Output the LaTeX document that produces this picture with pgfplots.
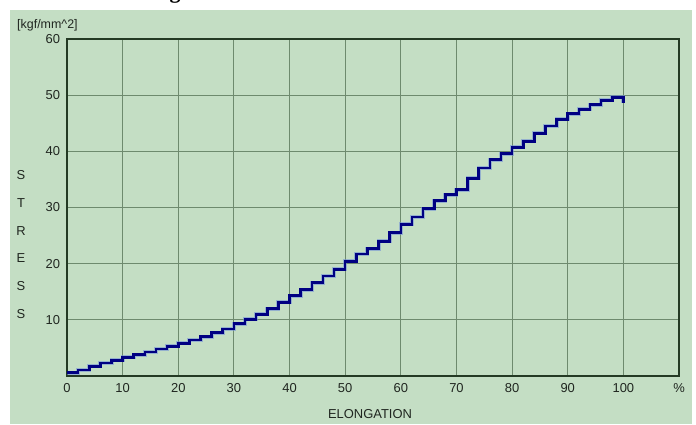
\documentclass[border=0pt]{standalone}
\usepackage{pgfplots}
\pgfplotsset{compat=1.18}
\usepackage{fontspec}
\setmainfont{Liberation Sans}
\newfontfamily\titlefont{Liberation Serif}
\definecolor{bg}{RGB}{196,222,196}
\definecolor{gridc}{RGB}{110,138,110}
\definecolor{axc}{RGB}{36,58,36}
\definecolor{curve}{RGB}{0,0,130}
\definecolor{halo}{RGB}{110,140,215}
\definecolor{txt}{RGB}{32,38,32}
\begin{document}
\begin{tikzpicture}[x=1bp,y=1bp]
\useasboundingbox (0,0) rectangle (696,424);
\fill[white] (0,0) rectangle (696,424);
\fill[bg] (10,0) rectangle (692,414);
\node[anchor=base,font=\titlefont\bfseries\fontsize{22}{22}\selectfont] at (175,425) {g};
\begin{axis}[
  at={(67bp,48bp)}, anchor=south west,
  width=612bp, height=337bp, scale only axis,
  xmin=0, xmax=110, ymin=0, ymax=60,
  xtick={0,10,...,110},
  xticklabels={0,10,20,30,40,50,60,70,80,90,100,\%},
  ytick={10,20,...,60},
  grid=major,
  major grid style={gridc, line width=1.1bp},
  axis line style={axc, line width=1.4bp},
  major tick length=0pt,
  /pgf/number format/assume math mode=true,
  tick label style={font=\fontsize{13}{15}\selectfont, text=txt},
  xticklabel style={yshift=-4bp},
  yticklabel style={xshift=-3.5bp},
  axis background/.style={fill=bg},
]
\addplot[const plot, halo, line width=4bp, opacity=0.55] coordinates {
(0,0.6) (2,1.1) (4,1.7) (6,2.3) (8,2.8) (10,3.3) (12,3.8) (14,4.3) (16,4.8) (18,5.3)
(20,5.8) (22,6.4) (24,7.0) (26,7.7) (28,8.4) (30,9.3) (32,10.1) (34,11.0) (36,12.0) (38,13.1)
(40,14.3) (42,15.4) (44,16.6) (46,17.8) (48,19.0) (50,20.4) (52,21.7) (54,22.7) (56,24.0) (58,25.5)
(60,27.0) (62,28.3) (64,29.8) (66,31.2) (68,32.3) (70,33.2) (72,35.2) (74,37.0) (76,38.5) (78,39.6)
(80,40.7) (82,41.8) (84,43.2) (86,44.5) (88,45.7) (90,46.7) (92,47.5) (94,48.3) (96,49.1) (98,49.6)
(100,48.6)};
\addplot[const plot, curve, line width=2.6bp] coordinates {
(0,0.6) (2,1.1) (4,1.7) (6,2.3) (8,2.8) (10,3.3) (12,3.8) (14,4.3) (16,4.8) (18,5.3)
(20,5.8) (22,6.4) (24,7.0) (26,7.7) (28,8.4) (30,9.3) (32,10.1) (34,11.0) (36,12.0) (38,13.1)
(40,14.3) (42,15.4) (44,16.6) (46,17.8) (48,19.0) (50,20.4) (52,21.7) (54,22.7) (56,24.0) (58,25.5)
(60,27.0) (62,28.3) (64,29.8) (66,31.2) (68,32.3) (70,33.2) (72,35.2) (74,37.0) (76,38.5) (78,39.6)
(80,40.7) (82,41.8) (84,43.2) (86,44.5) (88,45.7) (90,46.7) (92,47.5) (94,48.3) (96,49.1) (98,49.6)
(100,48.6)};
\end{axis}
\node[font=\fontsize{13}{15}\selectfont, text=txt] at (370,10) {ELONGATION};
\node[anchor=west, font=\fontsize{12.5}{15}\selectfont, text=txt, inner sep=0pt] at (17,399) {[kgf/mm\textasciicircum 2]};
\foreach \l [count=\i] in {S,T,R,E,S,S} {
  \node[font=\fontsize{13}{15}\selectfont, text=txt] at (21,{249-27.8*(\i-1)}) {\l};
}
\end{tikzpicture}
\end{document}
